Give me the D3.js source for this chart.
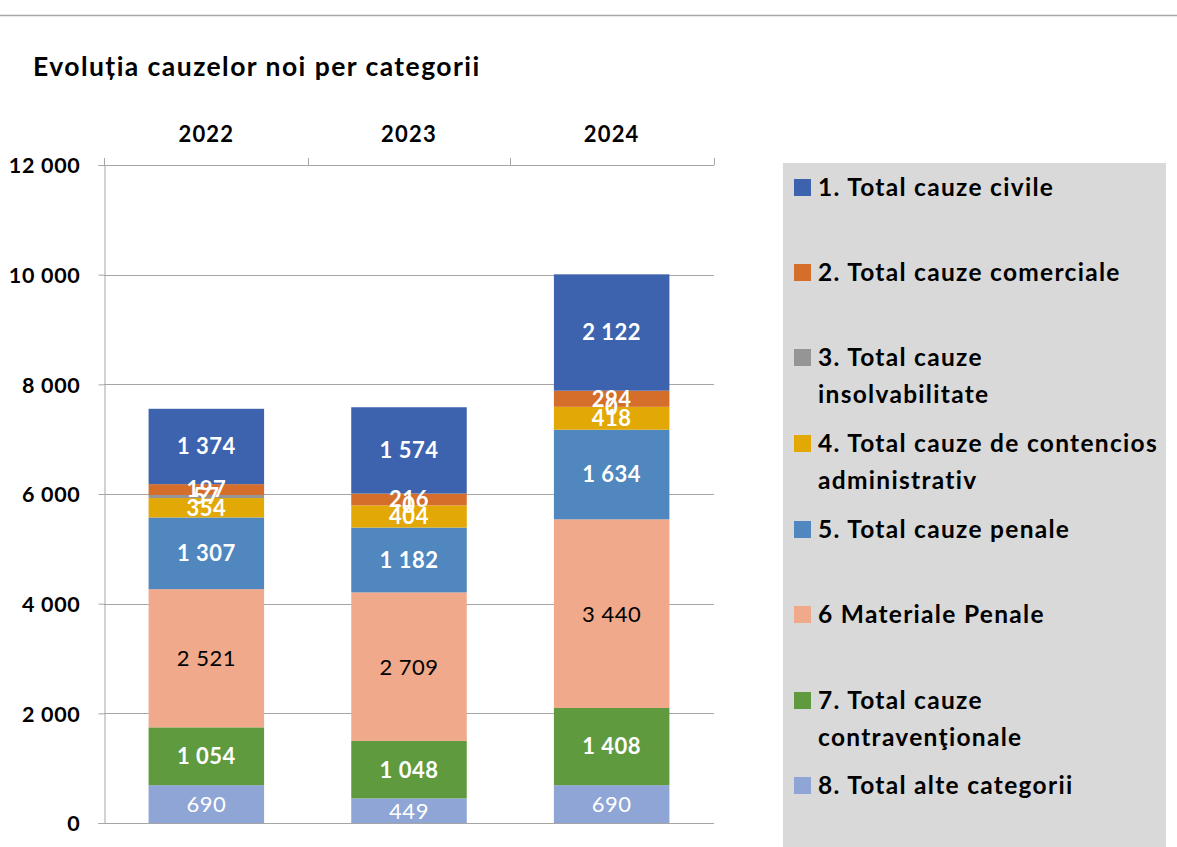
<!DOCTYPE html>
<html><head><meta charset="utf-8">
<script src="https://cdn.jsdelivr.net/npm/d3@7"></script>
<style>body{margin:0;background:#fff;}svg{display:block;font-family:Lato,"Open Sans",sans-serif;}</style>
</head><body>
<svg id="c" width="1177" height="847"></svg>
<script>
const years = ["2022", "2023", "2024"];
const seriesNames = ["8. Total alte categorii", "7. Total cauze contravenţionale", "6 Materiale Penale", "5. Total cauze penale", "4. Total cauze de contencios administrativ", "3. Total cauze insolvabilitate", "2. Total cauze comerciale", "1. Total cauze civile"];
const alte = [690, 449, 690];
const contrav = [1054, 1048, 1408];
const materiale = [2521, 2709, 3440];
const penale = [1307, 1182, 1634];
const contencios = [354, 404, 418];
const insolv = [57, 0, 0];
const comerciale = [197, 216, 294];
const civile = [1374, 1574, 2122];
const yTicks = [0, 2000, 4000, 6000, 8000, 10000, 12000];

const seriesValues = [alte, contrav, materiale, penale, contencios, insolv, comerciale, civile];
const colors = ["#8fa5d6", "#5f9a3f", "#f0a98b", "#4f87be", "#e2a906", "#959595", "#d56d2b", "#3d63ae"];
const labelStyle = [
  {fill:"#fff", weight:"normal"}, {fill:"#fff", weight:"bold"}, {fill:"#000", weight:"normal"},
  {fill:"#fff", weight:"bold"}, {fill:"#fff", weight:"bold"}, {fill:"#fff", weight:"bold"},
  {fill:"#fff", weight:"bold"}, {fill:"#fff", weight:"bold"}];

const rows = years.map((yr, i) => {
  const r = {year: yr};
  seriesNames.forEach((s, k) => r[s] = seriesValues[k][i]);
  return r;
});
const stacked = d3.stack().keys(seriesNames)(rows);

const fmt = d3.formatLocale({decimal: ",", thousands: "\u00a0", grouping: [3], currency: ["", ""]}).format(",d");

const svg = d3.select("#c");
const pLeft = 104, pRight = 714, pTop = 165, pBottom = 823;

const x = d3.scaleBand().domain(years).range([pLeft, pRight]).paddingInner(0.43).paddingOuter(0.22);
const y = d3.scaleLinear().domain([0, 12000]).range([pBottom, pTop]);

// top rule
svg.append("line").attr("x1", 0).attr("x2", 1177).attr("y1", 15.5).attr("y2", 15.5).attr("stroke", "#a6a6a6").attr("stroke-width", 1.5);

// title
svg.append("text").attr("x", 33).attr("y", 76).text("Evoluția cauzelor noi per categorii")
  .attr("font-size", 26.5).attr("font-weight", "bold").attr("letter-spacing", 1.45).attr("fill", "#000");

// gridlines
svg.append("g").selectAll("line").data(yTicks.filter(d => d > 0)).join("line")
  .attr("x1", pLeft).attr("x2", pRight).attr("y1", d => Math.round(y(d)) + 0.5).attr("y2", d => Math.round(y(d)) + 0.5)
  .attr("stroke", "#a6a6a6").attr("stroke-width", 1);

// y axis
const yAxis = svg.append("g").attr("transform", `translate(${pLeft + 0.5},0)`)
  .call(d3.axisLeft(y).tickValues(yTicks).tickFormat(d => fmt(d)).tickSize(6).tickPadding(18));
yAxis.select(".domain").attr("stroke", "#a6a6a6");
yAxis.selectAll(".tick line").attr("stroke", "#a6a6a6");
yAxis.selectAll(".tick text").attr("font-size", 21.5).attr("font-weight", "bold").attr("fill", "#000")
  .attr("letter-spacing", 0.7).attr("font-family", "Lato, sans-serif").attr("dy", "0.36em");

// top category axis
const xAxis = svg.append("g").attr("transform", `translate(0,${pTop + 0.5})`)
  .call(d3.axisTop(x).tickSize(0).tickPadding(24));
xAxis.select(".domain").remove();
xAxis.selectAll(".tick text").attr("font-size", 22).attr("font-weight", "bold").attr("fill", "#000")
  .attr("letter-spacing", 1.2).attr("font-family", "Lato, sans-serif");
const bounds = [pLeft, ...years.slice(1).map(yr => x(yr) - x.step() * x.paddingInner() / 2), pRight];
svg.append("g").selectAll("line").data(bounds).join("line")
  .attr("x1", d => Math.round(d) + 0.5).attr("x2", d => Math.round(d) + 0.5)
  .attr("y1", pTop - 7).attr("y2", pTop).attr("stroke", "#a6a6a6");

// bars
const g = svg.append("g");
stacked.forEach((layer, k) => {
  g.append("g").attr("fill", colors[k]).selectAll("rect").data(layer).join("rect")
    .attr("x", d => x(d.data.year)).attr("width", x.bandwidth())
    .attr("y", d => y(d[1])).attr("height", d => y(d[0]) - y(d[1]));
});

// bottom axis line
svg.append("line").attr("x1", pLeft - 6).attr("x2", pRight).attr("y1", pBottom + 0.5).attr("y2", pBottom + 0.5)
  .attr("stroke", "#a6a6a6").attr("stroke-width", 1.2);

// labels
stacked.forEach((layer, k) => {
  svg.append("g").selectAll("text").data(layer).join("text")
    .attr("x", d => x(d.data.year) + x.bandwidth() / 2)
    .attr("y", d => (y(d[0]) + y(d[1])) / 2)
    .attr("dy", "0.36em").attr("text-anchor", "middle")
    .attr("font-size", 22).attr("letter-spacing", 0.5).attr("fill", labelStyle[k].fill).attr("font-weight", labelStyle[k].weight)
    .attr("font-family", "Lato, sans-serif")
    .text(d => fmt(d[1] - d[0]));
});

// legend
const lg = svg.append("g");
lg.append("rect").attr("x", 783).attr("y", 163).attr("width", 383).attr("height", 690).attr("fill", "#d9d9d9");
const legendItems = [
  {k: 7, lines: ["1. Total cauze civile"], y: 187},
  {k: 6, lines: ["2. Total cauze comerciale"], y: 272},
  {k: 5, lines: ["3. Total cauze", "insolvabilitate"], y: 357},
  {k: 4, lines: ["4. Total cauze de contencios", "administrativ"], y: 443},
  {k: 3, lines: ["5. Total cauze penale"], y: 529},
  {k: 2, lines: ["6 Materiale Penale"], y: 614},
  {k: 1, lines: ["7. Total cauze", "contravenţionale"], y: 700},
  {k: 0, lines: ["8. Total alte categorii"], y: 785}
];
legendItems.forEach(it => {
  lg.append("rect").attr("x", 794).attr("y", it.y - 8).attr("width", 17).attr("height", 17).attr("fill", colors[it.k]);
  it.lines.forEach((t, i) => {
    lg.append("text").attr("x", 818).attr("y", it.y + i * 37).attr("dy", "0.36em")
      .attr("font-size", 24.5).attr("letter-spacing", 1.3).attr("font-weight", "bold").attr("fill", "#000").text(t);
  });
});
</script>
</body></html>
